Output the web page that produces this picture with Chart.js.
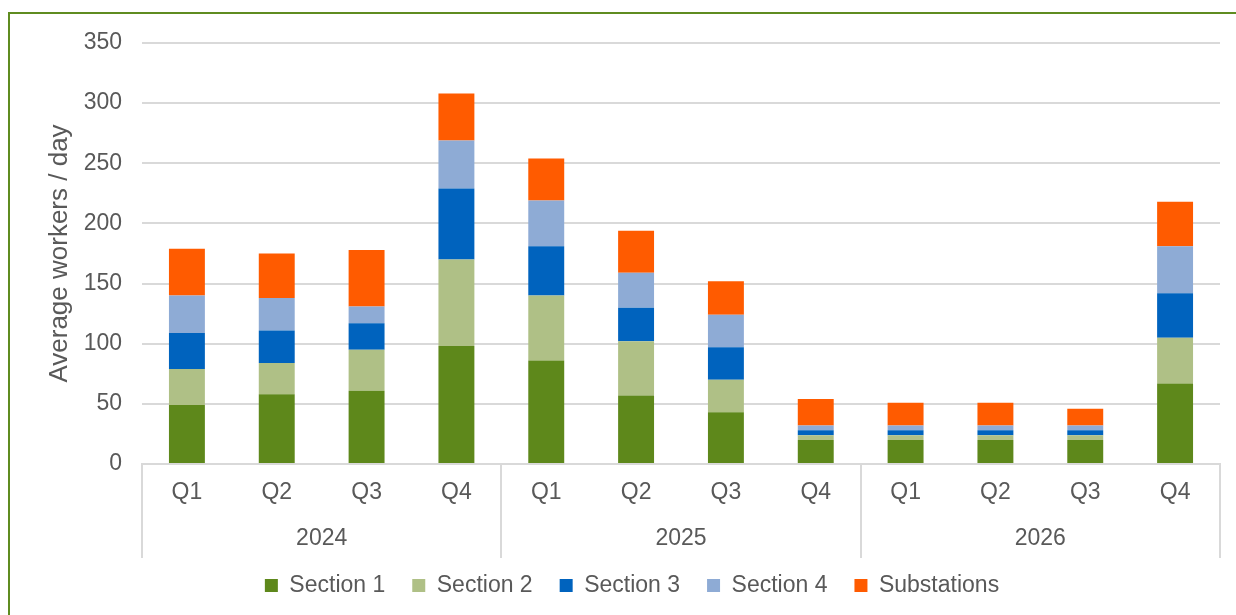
<!DOCTYPE html>
<html>
<head>
<meta charset="utf-8">
<script src="https://cdn.jsdelivr.net/npm/chart.js@4.4.1/dist/chart.umd.min.js"></script>
<style>
  html, body { margin: 0; padding: 0; background: #fff; }
  #wrap { position: relative; width: 1236px; height: 615px; overflow: hidden; }
  #frame {
    position: absolute; left: 8px; top: 12px; width: 1240px; height: 620px;
    border-left: 2px solid #5f8c20; border-top: 2px solid #5f8c20;
  }
  #chart { position: absolute; left: 0; top: 0; }
</style>
</head>
<body>
<div id="wrap">
  <div id="frame"></div>
  <canvas id="chart" width="1236" height="607"></canvas>
</div>
<script>
const quarters = ["Q1", "Q2", "Q3", "Q4", "Q1", "Q2", "Q3", "Q4", "Q1", "Q2", "Q3", "Q4"];
const years = ["2024", "2025", "2026"];

const section1 = [49, 58, 61, 98, 86, 57, 43, 20, 20, 20, 20, 67];
const section2 = [30, 26, 34, 72, 54, 45, 27, 4, 4, 4, 4, 38];
const section3 = [30, 27, 22, 59, 41, 28, 27, 4, 4, 4, 4, 37];
const section4 = [31, 27, 14, 40, 38, 29, 27, 4, 4, 4, 4, 39];
const substations = [39, 37, 47, 39, 35, 35, 28, 22, 19, 19, 14, 37];

const textColor = "#595959",
  gridColor = "#d9d9d9",
  fontFamily = "'Liberation Sans', Arial, sans-serif";

Chart.defaults.font.family = fontFamily;
Chart.defaults.color = textColor;

function serie(label, data, color) {
  return {
    label: label,
    data: data,
    backgroundColor: color,
    borderWidth: 0,
    barPercentage: 0.8,
    categoryPercentage: 0.5,
    xAxisID: "x",
  };
}

const dati = {
  labels: quarters,
  datasets: [
    serie("Section 1", section1, "#5e881b"),
    serie("Section 2", section2, "#afc086"),
    serie("Section 3", section3, "#0063be"),
    serie("Section 4", section4, "#8eabd5"),
    serie("Substations", substations, "#ff5b00"),
  ],
};

// vertical lines between the year groups, from the axis line down through both label rows
const separatori = {
  id: "separatori",
  afterDraw(chart) {
    const x2 = chart.scales.x2,
      top = chart.scales.x.top,
      ctx = chart.ctx;
    const step = x2.getPixelForValue(1) - x2.getPixelForValue(0);
    ctx.save();
    ctx.strokeStyle = gridColor;
    ctx.lineWidth = 2;
    for (let i = 0; i <= years.length; i++) {
      const px = Math.round(x2.getPixelForValue(Math.min(i, years.length - 1)) + (i < years.length ? -step / 2 : step / 2));
      ctx.beginPath();
      ctx.moveTo(px, top);
      ctx.lineTo(px, x2.bottom + 11);
      ctx.stroke();
    }
    ctx.restore();
  },
};

const config = {
  type: "bar",
  data: dati,
  plugins: [separatori],
  options: {
    responsive: false,
    animation: false,
    layout: { padding: { left: 44, right: 16, top: 43, bottom: 0 } },
    plugins: {
      tooltip: { enabled: false },
      legend: {
        position: "bottom",
        labels: {
          boxWidth: 13,
          boxHeight: 13,
          padding: 27,
          font: { size: 23 },
          color: textColor,
        },
      },
    },
    scales: {
      x: {
        stacked: true,
        offset: true,
        grid: { display: false, drawTicks: false },
        border: { color: gridColor, width: 2 },
        ticks: { padding: 15, font: { size: 23 }, color: textColor, maxRotation: 0 },
        afterFit: (s) => { s.height = 45; },
      },
      x2: {
        type: "category",
        labels: years,
        position: "bottom",
        offset: true,
        grid: { display: false, drawTicks: false },
        border: { display: false },
        ticks: { padding: 16, font: { size: 23 }, color: textColor, maxRotation: 0 },
        afterFit: (s) => { s.height = 38; },
      },
      y: {
        stacked: true,
        min: 0,
        max: 350,
        ticks: { stepSize: 50, padding: 20, font: { size: 23 }, color: textColor },
        grid: { color: gridColor, lineWidth: 2, drawTicks: false },
        border: { display: false },
        title: {
          display: true,
          text: "Average workers / day",
          font: { size: 26 },
          color: textColor,
          padding: { top: 0, bottom: 0 },
        },
        afterFit: (s) => { s.width = 98; },
      },
    },
  },
};

new Chart(document.getElementById("chart").getContext("2d"), config);
</script>
</body>
</html>
